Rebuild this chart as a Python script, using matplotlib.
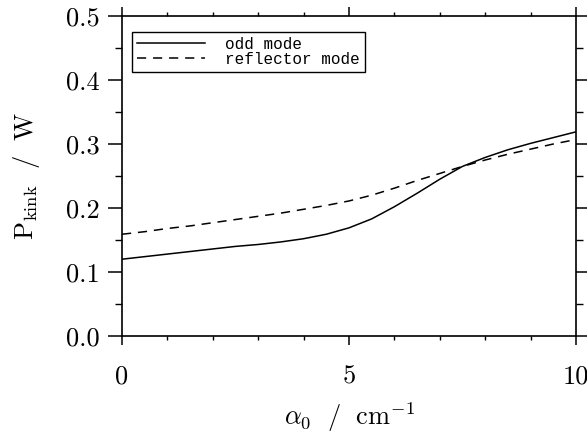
import matplotlib
matplotlib.use("Agg")
import matplotlib.pyplot as plt
from matplotlib.ticker import MultipleLocator, FixedLocator, FixedFormatter

plt.rcParams['font.family'] = ['cmr10', 'DejaVu Serif']
plt.rcParams['mathtext.fontset'] = 'cm'
plt.rcParams['axes.formatter.use_mathtext'] = True

# data
alpha0 = [0, 0.5, 1, 1.5, 2, 2.5, 3, 3.5, 4, 4.5, 5, 5.5, 6, 6.5, 7, 7.5, 8, 8.5, 9, 9.5, 10]
p_odd = [0.120, 0.124, 0.128, 0.132, 0.136, 0.140, 0.143, 0.147, 0.152, 0.159, 0.169,
         0.183, 0.202, 0.223, 0.245, 0.265, 0.279, 0.291, 0.301, 0.310, 0.319]
p_refl = [0.159, 0.163, 0.168, 0.172, 0.177, 0.182, 0.187, 0.192, 0.198, 0.204, 0.211,
          0.220, 0.231, 0.243, 0.254, 0.265, 0.275, 0.284, 0.292, 0.300, 0.307]
xticks = [0, 5, 10]
xticklabels = ['0', '5', '10']
yticks = [0.0, 0.1, 0.2, 0.3, 0.4, 0.5]
yticklabels = ['0.0', '0.1', '0.2', '0.3', '0.4', '0.5']
series_labels = ['odd mode', 'reflector mode']

fig = plt.figure(figsize=(5.87, 4.34), dpi=100)
ax = fig.add_axes([122/587, (434-336)/434, 454/587, 320/434])

ax.plot(alpha0, p_odd, color='black', lw=1.1, label=series_labels[0])
ax.plot(alpha0, p_refl, color='black', lw=1.1, dashes=(6.0, 4.5), label=series_labels[1])

ax.set_xlim(0, 10)
ax.set_ylim(0, 0.5)
ax.xaxis.set_major_locator(FixedLocator(xticks))
ax.xaxis.set_major_formatter(FixedFormatter(xticklabels))
ax.xaxis.set_minor_locator(MultipleLocator(1))
ax.yaxis.set_major_locator(FixedLocator(yticks))
ax.yaxis.set_major_formatter(FixedFormatter(yticklabels))
ax.yaxis.set_minor_locator(MultipleLocator(0.05))

for s in ax.spines.values():
    s.set_linewidth(1.2)

ax.tick_params(axis='x', which='major', direction='out', length=6.5, width=1.1,
               top=True, bottom=True, labelsize=19, pad=14)
ax.tick_params(axis='x', which='minor', direction='out', length=3.2, width=1.0,
               top=True, bottom=True)
ax.tick_params(axis='y', which='major', direction='out', length=10, width=1.1,
               left=True, right=True, labelsize=19, pad=6)
ax.tick_params(axis='y', which='minor', direction='out', length=5, width=1.0,
               left=True, right=True)

ax.set_xlabel(r'$\alpha_0\ \ /\ \ \mathrm{cm}^{-1}$', fontsize=19, labelpad=9)
ax.set_ylabel(r'$\mathrm{P}_{\mathrm{kink}}\ \ /\ \ \mathrm{W}$', fontsize=19, labelpad=17)

leg = ax.legend(loc='upper left', bbox_to_anchor=(0.022, 0.95),
                prop={'family': 'Liberation Mono', 'size': 11.5},
                frameon=True, fancybox=False, edgecolor='black', framealpha=1,
                handlelength=4.3, handletextpad=1.25, borderpad=0.3,
                labelspacing=0.0, borderaxespad=0)
leg.get_frame().set_linewidth(1.0)

fig.savefig('out.png', dpi=100)
